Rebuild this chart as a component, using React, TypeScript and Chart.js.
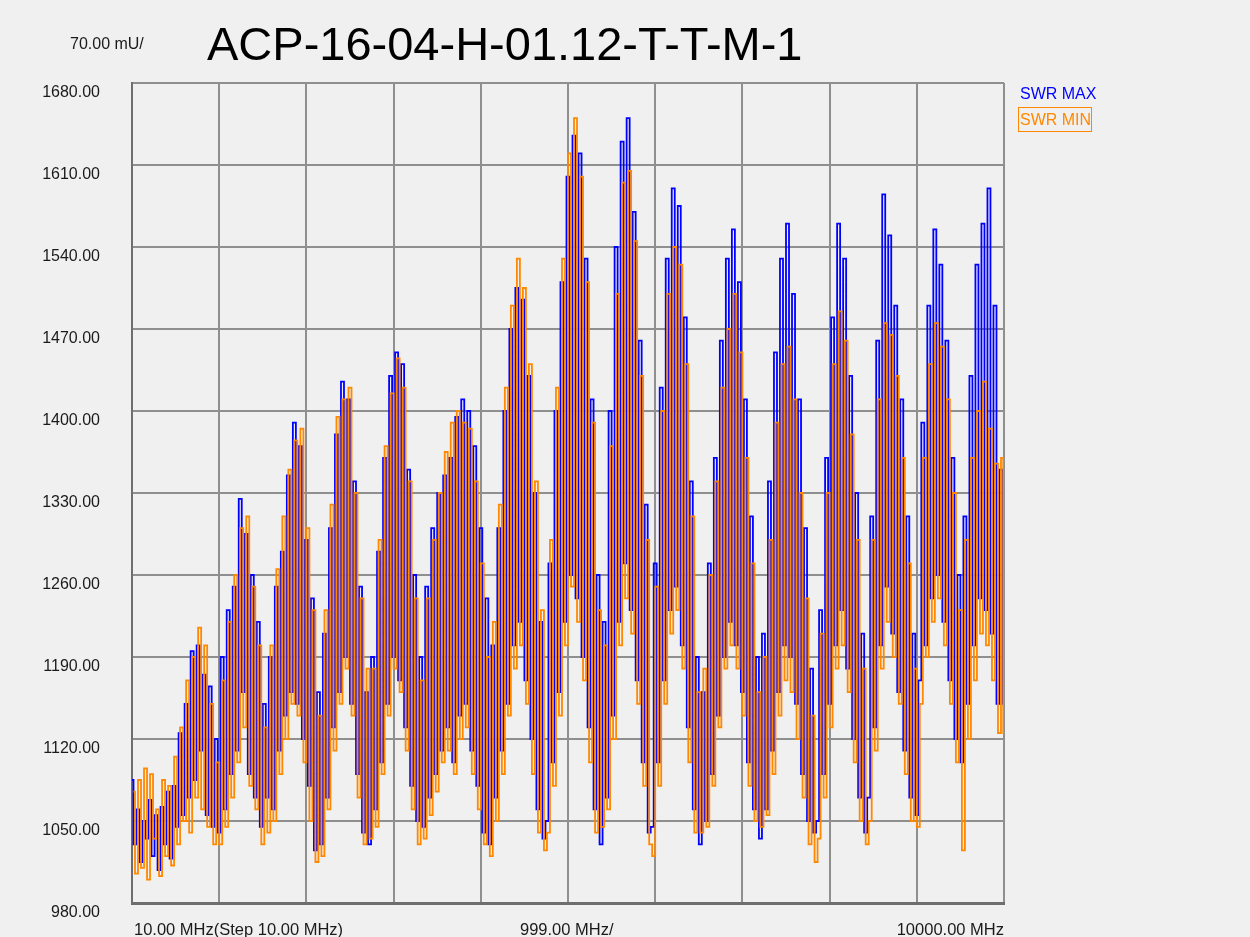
import React, { useEffect, useRef } from "react";
import { Chart, registerables } from "chart.js";

Chart.register(...registerables);

const TITLE = "ACP-16-04-H-01.12-T-T-M-1";
const Y_UNIT_LABEL = "70.00 mU/";
const X_LABEL_START = "10.00 MHz(Step 10.00 MHz)";
const X_LABEL_MID = "999.00 MHz/";
const X_LABEL_END = "10000.00 MHz";

const START_MHZ = 10;
const STOP_MHZ = 10000;
const DIV_MHZ = 999;
const X_DIVS = 10;

const Y_MIN = 980;
const Y_MAX = 1680;
const Y_STEP = 70;

const SERIES_NAMES = ["SWR MAX", "SWR MIN"];

// SWR MAX (blue) – read lobe by lobe from the trace
const SWR_MAX = [
  1085, 1030, 1060, 1015, 1050, 1035, 1068, 1020, 1055, 1008, 1062, 1030, 1075, 1018, 1080, 1045, 1125, 1055, 1150, 1070, 1195, 1085, 1200, 1110, 1175, 1055, 1165, 1045,
  1120, 1040, 1190, 1060, 1230, 1090, 1250, 1110, 1325, 1160, 1295, 1090, 1260, 1070, 1220, 1045, 1150,
  1070, 1190, 1060, 1250, 1110, 1280, 1140, 1345, 1160, 1390, 1150, 1370, 1120, 1290, 1080, 1240, 1025, 1160,
  1030, 1210, 1070, 1300, 1130, 1380, 1160, 1425, 1190, 1410, 1150, 1340, 1090, 1250, 1040, 1160,
  1030, 1190, 1060, 1280, 1100, 1360, 1150, 1430, 1190, 1450, 1170, 1440, 1130, 1350, 1080, 1260, 1050,
  1190, 1045, 1250, 1070, 1300, 1090, 1330, 1110, 1345, 1130, 1360, 1100, 1395, 1140, 1410, 1150, 1400, 1110, 1370, 1080, 1300, 1040, 1240,
  1030, 1200, 1070, 1300, 1110, 1400, 1150, 1470, 1200, 1505, 1220, 1495, 1170, 1430, 1120, 1330, 1060, 1220, 1035,
  1050, 1270, 1100, 1400, 1160, 1510, 1220, 1600, 1260, 1635, 1240, 1620, 1190, 1530, 1130, 1410, 1060, 1260,
  1030, 1220, 1070, 1400, 1140, 1540, 1220, 1630, 1270, 1650, 1230, 1570, 1170, 1460, 1100, 1320, 1040,
  1045, 1270, 1100, 1420, 1170, 1530, 1230, 1590, 1250, 1575, 1200, 1480, 1130, 1340, 1060, 1190,
  1030, 1160, 1050, 1270, 1090, 1360, 1140, 1460, 1190, 1530, 1220, 1555, 1200, 1510, 1160, 1410, 1100, 1310, 1060, 1190,
  1035, 1210, 1060, 1340, 1110, 1450, 1160, 1530, 1200, 1560, 1190, 1500, 1150, 1410, 1090, 1300, 1050, 1180, 1040,
  1050, 1230, 1090, 1360, 1150, 1480, 1200, 1560, 1230, 1530, 1180, 1430, 1120, 1330, 1070, 1210, 1040,
  1070, 1310, 1130, 1460, 1200, 1585, 1250, 1550, 1210, 1490, 1160, 1410, 1110, 1310, 1070, 1210, 1055,
  1170, 1390, 1200, 1490, 1240, 1555, 1260, 1525, 1220, 1460, 1170, 1360, 1120, 1260,
  1100, 1310, 1150, 1430, 1200, 1525, 1240, 1560, 1230, 1590, 1210, 1490, 1150, 1350, 1150,
];

// SWR MIN (orange)
const SWR_MIN = [
  1075, 1005, 1085, 1010, 1095, 1000, 1090, 1035, 1060, 1003, 1085, 1020, 1080, 1012, 1105, 1030, 1130, 1050, 1170, 1040, 1190, 1070, 1215, 1060, 1200, 1045, 1150, 1030,
  1100, 1030, 1170, 1045, 1220, 1070, 1260, 1100, 1300, 1130, 1310, 1080, 1250, 1060, 1200, 1030, 1130,
  1040, 1200, 1050, 1265, 1090, 1310, 1120, 1350, 1150, 1375, 1140, 1385, 1100, 1300, 1050, 1230, 1015, 1140,
  1020, 1230, 1060, 1320, 1110, 1395, 1150, 1410, 1180, 1420, 1140, 1330, 1070, 1240, 1030, 1180,
  1035, 1180, 1045, 1290, 1090, 1370, 1140, 1415, 1180, 1445, 1160, 1420, 1110, 1340, 1060, 1240, 1030,
  1170, 1035, 1240, 1055, 1290, 1075, 1330, 1100, 1365, 1110, 1390, 1090, 1400, 1120, 1390, 1130, 1385, 1090, 1340, 1060, 1270, 1030, 1190,
  1020, 1220, 1050, 1320, 1090, 1420, 1140, 1490, 1180, 1530, 1200, 1505, 1150, 1440, 1090, 1340, 1040, 1230, 1025,
  1040, 1290, 1080, 1420, 1140, 1530, 1200, 1620, 1250, 1650, 1220, 1600, 1170, 1510, 1100, 1390, 1040, 1230,
  1045, 1200, 1060, 1370, 1120, 1500, 1200, 1595, 1240, 1605, 1210, 1545, 1150, 1430, 1080, 1290, 1030,
  1020, 1250, 1080, 1400, 1150, 1500, 1210, 1540, 1230, 1525, 1180, 1440, 1100, 1310, 1040, 1160,
  1040, 1180, 1045, 1260, 1080, 1340, 1130, 1420, 1180, 1470, 1200, 1500, 1180, 1450, 1140, 1360, 1080, 1270, 1050, 1160,
  1045, 1190, 1055, 1290, 1090, 1390, 1140, 1440, 1170, 1455, 1160, 1410, 1120, 1330, 1070, 1240, 1030, 1140, 1015,
  1035, 1210, 1070, 1330, 1130, 1440, 1180, 1485, 1200, 1460, 1160, 1380, 1100, 1290, 1050, 1180, 1030,
  1050, 1290, 1110, 1410, 1180, 1475, 1220, 1465, 1190, 1430, 1150, 1360, 1090, 1270, 1050, 1180, 1045,
  1150, 1360, 1190, 1440, 1220, 1475, 1240, 1455, 1200, 1410, 1150, 1330, 1100, 1230,
  1025, 1290, 1120, 1360, 1170, 1400, 1210, 1425, 1200, 1385, 1170, 1355, 1125, 1360, 1125,
];

const BLUE = "#0000ff";
const ORANGE = "#ff8800";
const FONT = '"Liberation Sans", Arial, sans-serif';

// samples spread evenly over the sweep; phase shifts a trace by a fraction of a sample
function toPoints(values: number[], phase: number) {
  const n = values.length;
  const step = (STOP_MHZ - START_MHZ) / (n - 1);
  return values.map((v, i) => ({
    x: Math.min(STOP_MHZ, START_MHZ + (i + phase) * step),
    y: v,
  }));
}

export default function App() {
  const canvasRef = useRef<HTMLCanvasElement | null>(null);

  useEffect(() => {
    const canvas = canvasRef.current;
    if (!canvas) return;
    const chart = new Chart(canvas, {
      type: "line",
      data: {
        datasets: [
          {
            label: SERIES_NAMES[0],
            data: toPoints(SWR_MAX, 0),
            borderColor: BLUE,
            borderWidth: 1.8,
            pointRadius: 0,
            stepped: "middle",
            fill: false,
            order: 1,
          },
          {
            label: SERIES_NAMES[1],
            data: toPoints(SWR_MIN, 0.5),
            borderColor: ORANGE,
            borderWidth: 1.8,
            pointRadius: 0,
            stepped: "middle",
            fill: false,
            order: 0,
          },
        ],
      },
      options: {
        responsive: false,
        animation: false,
        layout: { padding: { left: 0, top: 83, right: 246, bottom: 34 } },
        plugins: {
          legend: { display: false },
          tooltip: { enabled: false },
          title: { display: false },
        },
        scales: {
          x: {
            type: "linear",
            min: START_MHZ,
            max: STOP_MHZ,
            afterBuildTicks: (scale: any) => {
              scale.ticks = Array.from({ length: X_DIVS + 1 }, (_, k) => ({
                value: START_MHZ + k * DIV_MHZ,
              }));
            },
            afterFit: (scale: any) => {
              scale.height = 0;
              scale.paddingLeft = 0;
              scale.paddingRight = 0;
            },
            ticks: { display: false },
            grid: {
              color: "#8f8f8f",
              lineWidth: 2,
              drawTicks: false,
            },
            border: { color: "#6e6e6e", width: 3 },
          },
          y: {
            type: "linear",
            min: Y_MIN,
            max: Y_MAX,
            afterFit: (scale: any) => {
              scale.width = 132;
              scale.paddingTop = 0;
              scale.paddingBottom = 0;
            },
            ticks: {
              stepSize: Y_STEP,
              padding: 32,
              labelOffset: 10,
              color: "#1a1a1a",
              font: { family: FONT, size: 16 },
              callback: (v: any) => Number(v).toFixed(2),
            },
            grid: {
              color: "#8f8f8f",
              lineWidth: 2,
              drawTicks: false,
            },
            border: { color: "#6e6e6e", width: 2 },
          },
        },
      },
    });
    return () => chart.destroy();
  }, []);

  const txt = (extra: React.CSSProperties): React.CSSProperties => ({
    position: "absolute",
    fontFamily: FONT,
    whiteSpace: "nowrap",
    lineHeight: 1,
    ...extra,
  });

  return (
    <div
      style={{
        position: "fixed",
        left: 0,
        top: 0,
        width: 1250,
        height: 937,
        background: "#f0f0f0",
        overflow: "hidden",
      }}
    >
      <canvas
        ref={canvasRef}
        width={1250}
        height={937}
        style={{ position: "absolute", left: 0, top: 0, width: 1250, height: 937 }}
      />
      <div style={txt({ left: 70, top: 36, fontSize: 16, color: "#1a1a1a" })}>{Y_UNIT_LABEL}</div>
      <div style={txt({ left: 207, top: 20, fontSize: 47, color: "#000" })}>{TITLE}</div>
      <div style={txt({ left: 1020, top: 86, fontSize: 16, color: BLUE })}>{SERIES_NAMES[0]}</div>
      <div
        style={txt({
          left: 1018,
          top: 107,
          fontSize: 16,
          color: ORANGE,
          border: `1px solid ${ORANGE}`,
          padding: "4px 0px 3px 1px",
        })}
      >
        {SERIES_NAMES[1]}
      </div>
      <div style={txt({ left: 134, top: 921, fontSize: 16.5, color: "#1a1a1a" })}>{X_LABEL_START}</div>
      <div style={txt({ left: 520, top: 921, fontSize: 16.5, color: "#1a1a1a" })}>{X_LABEL_MID}</div>
      <div style={txt({ right: 246, top: 921, fontSize: 16.5, color: "#1a1a1a" })}>{X_LABEL_END}</div>
    </div>
  );
}
